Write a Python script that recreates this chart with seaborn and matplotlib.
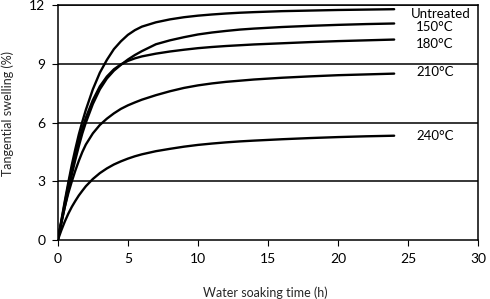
import numpy as np
import pandas as pd
import matplotlib
matplotlib.use("Agg")
import matplotlib.pyplot as plt
import seaborn as sns

time_h = [0, 0.25, 0.5, 0.75, 1, 1.25, 1.5, 1.75, 2, 2.5, 3, 3.5, 4, 4.5, 5, 5.5, 6,
          7, 8, 9, 10, 11, 12, 13, 14, 16, 18, 20, 22, 24]
untreated = [0, 1.0, 2.0, 2.95, 3.85, 4.65, 5.4, 6.05, 6.65, 7.7, 8.55, 9.2, 9.75, 10.15, 10.48, 10.72, 10.9,
             11.12, 11.27, 11.38, 11.46, 11.52, 11.57, 11.61, 11.64, 11.69, 11.72, 11.75, 11.77, 11.79]
t150 = [0, 0.85, 1.7, 2.55, 3.35, 4.1, 4.8, 5.45, 6.0, 6.95, 7.7, 8.25, 8.65, 8.95, 9.22, 9.45, 9.65,
        10.0, 10.2, 10.36, 10.5, 10.6, 10.68, 10.75, 10.8, 10.88, 10.94, 10.99, 11.03, 11.06]
t180 = [0, 0.95, 1.9, 2.8, 3.65, 4.4, 5.1, 5.7, 6.25, 7.15, 7.85, 8.35, 8.72, 8.97, 9.15, 9.28, 9.38,
        9.52, 9.63, 9.72, 9.8, 9.86, 9.91, 9.95, 9.99, 10.05, 10.11, 10.16, 10.2, 10.24]
t210 = [0, 0.9, 1.7, 2.4, 3.0, 3.55, 4.05, 4.5, 4.88, 5.45, 5.88, 6.2, 6.47, 6.7, 6.88, 7.03, 7.17,
        7.4, 7.6, 7.77, 7.9, 8.0, 8.08, 8.14, 8.2, 8.29, 8.36, 8.42, 8.46, 8.5]
t240 = [0, 0.5, 0.95, 1.35, 1.7, 2.0, 2.28, 2.52, 2.75, 3.12, 3.42, 3.66, 3.86, 4.02, 4.16, 4.28, 4.38,
        4.54, 4.66, 4.77, 4.86, 4.93, 4.99, 5.04, 5.08, 5.15, 5.21, 5.26, 5.3, 5.33]

series_names = ["Untreated", "150°C", "180°C", "210°C", "240°C"]
series_values = [untreated, t150, t180, t210, t240]
label_pos = [(27.3, 11.54), (26.9, 10.87), (26.9, 10.0), (26.9, 8.56), (26.9, 5.33)]

x_ticks = [0, 5, 10, 15, 20, 25, 30]
y_ticks = [0, 3, 6, 9, 12]

rows = []
for name, vals in zip(series_names, series_values):
    for t, v in zip(time_h, vals):
        rows.append({"time": t, "swelling": v, "series": name})
df = pd.DataFrame(rows)

sns.set_style("white")
plt.rcParams['font.family'] = ['Lato', 'DejaVu Sans']

fig = plt.figure(figsize=(4.9, 2.99), dpi=100)
ax = fig.add_axes([0.118, 0.197, 0.858, 0.786])

for y in y_ticks[1:]:
    ax.axhline(y, color="black", lw=1.1, zorder=1)

sns.lineplot(data=df, x="time", y="swelling", hue="series",
             palette=["black"] * 5, linewidth=1.7, legend=False, ax=ax,
             zorder=3)
for line in ax.get_lines():
    line.set_solid_joinstyle("round")
    line.set_solid_capstyle("round")

for name, (x, y) in zip(series_names, label_pos):
    ax.text(x, y, name, ha="center", va="center", fontsize=9.5, color="black")

ax.set_xlim(0, 30)
ax.set_ylim(0, 12)
ax.set_xticks(x_ticks)
ax.set_yticks(y_ticks)
ax.tick_params(axis="both", direction="out", length=4, width=0.8, colors="black",
               labelsize=10, left=True, bottom=True, pad=5)
for s in ax.spines.values():
    s.set_color("black")
    s.set_linewidth(1.1)
    s.set_visible(True)

ax.set_xlabel("")
ax.set_ylabel("")
fig.text(265 / 490, 1 - 293 / 299, "Water soaking time (h)", fontsize=9,
         ha="center", va="center")
fig.text(8 / 490, 1 - 114 / 299, "Tangential swelling (%)", fontsize=9,
         ha="center", va="center", rotation=90)

fig.savefig("out.png", dpi=100)
